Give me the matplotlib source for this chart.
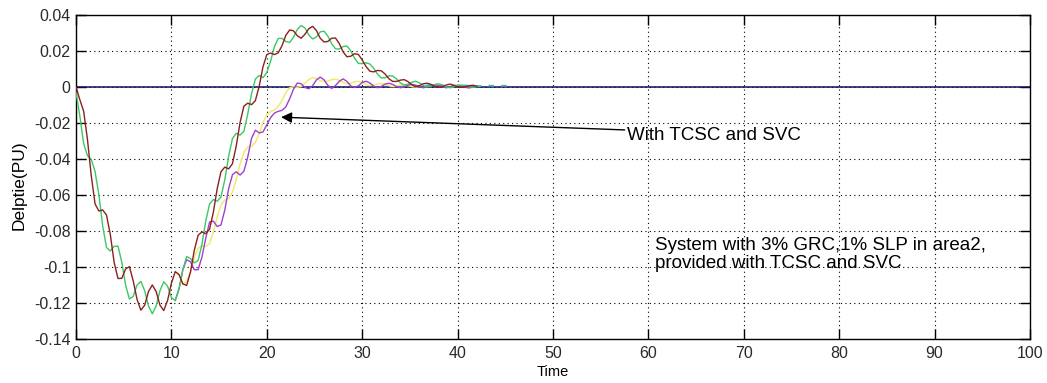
import matplotlib
matplotlib.use("Agg")
import matplotlib.pyplot as plt

plt.rcParams['font.family'] = ['Liberation Sans', 'DejaVu Sans']

# === data (time step 0.4) ===
time = [0.0, 0.4, 0.8, 1.2, 1.6, 2.0, 2.4, 2.8, 3.2, 3.6,
        4.0, 4.4, 4.8, 5.2, 5.6, 6.0, 6.4, 6.8, 7.2, 7.6,
        8.0, 8.4, 8.8, 9.2, 9.6, 10.0, 10.4, 10.8, 11.2, 11.6,
        12.0, 12.4, 12.8, 13.2, 13.6, 14.0, 14.4, 14.8, 15.2, 15.6,
        16.0, 16.4, 16.8, 17.2, 17.6, 18.0, 18.4, 18.8, 19.2, 19.6,
        20.0, 20.4, 20.8, 21.2, 21.6, 22.0, 22.4, 22.8, 23.2, 23.6,
        24.0, 24.4, 24.8, 25.2, 25.6, 26.0, 26.4, 26.8, 27.2, 27.6,
        28.0, 28.4, 28.8, 29.2, 29.6, 30.0, 30.4, 30.8, 31.2, 31.6,
        32.0, 32.4, 32.8, 33.2, 33.6, 34.0, 34.4, 34.8, 35.2, 35.6,
        36.0, 36.4, 36.8, 37.2, 37.6, 38.0, 38.4, 38.8, 39.2, 39.6,
        40.0, 40.4, 40.8, 41.2, 41.6, 42.0]

red = [0.0, -0.007, -0.0134, -0.0291, -0.0493, -0.065, -0.0689, -0.0683, -0.0712, -0.0821,
       -0.0975, -0.1064, -0.1063, -0.1011, -0.0998, -0.1078, -0.118, -0.124, -0.1212, -0.1136,
       -0.110, -0.1136, -0.1212, -0.1242, -0.1186, -0.109, -0.1026, -0.1042, -0.1094, -0.1102,
       -0.1028, -0.0907, -0.0824, -0.0805, -0.0815, -0.079, -0.0695, -0.0565, -0.047, -0.0445,
       -0.0455, -0.0426, -0.0327, -0.0197, -0.0106, -0.009, -0.0098, -0.0076, 0.0004, 0.0112,
       0.018, 0.0189, 0.018, 0.019, 0.023, 0.0288, 0.0317, 0.0312, 0.0285, 0.0271,
       0.0293, 0.0324, 0.0337, 0.0314, 0.0271, 0.025, 0.0253, 0.0271, 0.0272, 0.0241,
       0.0195, 0.0168, 0.0171, 0.0185, 0.0181, 0.015, 0.0114, 0.0088, 0.0084, 0.0092,
       0.009, 0.0072, 0.0046, 0.0031, 0.0031, 0.0038, 0.0041, 0.003, 0.0012, 0.0002,
       0.0008, 0.0018, 0.0021, 0.0015, 0.0004, -0.0002, 0.0002, 0.0011, 0.0016, 0.001,
       0.0, -0.0001, 0.0001, 0.0007, 0.001, 0.0005]

green = [-0.003, -0.016, -0.0314, -0.0381, -0.0403, -0.047, -0.0599, -0.0773, -0.0892, -0.0911,
         -0.0885, -0.0884, -0.0973, -0.1101, -0.1178, -0.1163, -0.110, -0.108, -0.1132, -0.1216,
         -0.126, -0.1216, -0.1132, -0.1082, -0.1106, -0.117, -0.1186, -0.1122, -0.1014, -0.0942,
         -0.0953, -0.0977, -0.0964, -0.0875, -0.0745, -0.065, -0.0625, -0.0635, -0.061, -0.0515,
         -0.0385, -0.0286, -0.0257, -0.0267, -0.0246, -0.015, -0.0038, 0.0044, 0.0064, 0.0052,
         0.008, 0.0144, 0.0224, 0.027, 0.027, 0.0253, 0.0247, 0.0277, 0.032, 0.0341,
         0.0328, 0.0289, 0.0267, 0.0278, 0.0306, 0.031, 0.0283, 0.0241, 0.0212, 0.0211,
         0.0225, 0.0228, 0.0201, 0.016, 0.0131, 0.013, 0.0134, 0.0128, 0.0104, 0.0072,
         0.005, 0.0052, 0.0062, 0.0061, 0.0045, 0.0023, 0.0011, 0.0015, 0.0026, 0.0032,
         0.0023, 0.0008, 0.0001, 0.0005, 0.0014, 0.0018, 0.0012, 0.0001, -0.0004, 0.0,
         0.001, 0.0011, 0.0007, 0.0001, -0.0002, 0.0002]

# purple and yellow run under green/red until ~t=10.4, so they start there
split_start = 26
purple = [-0.1186, -0.1122, -0.1014, -0.096, -0.097, -0.1015, -0.1015, -0.0945, -0.084, -0.075,
          -0.0745, -0.0775, -0.0766, -0.0683, -0.0565, -0.0487, -0.0471, -0.0489, -0.0468, -0.039,
          -0.0286, -0.024, -0.0255, -0.025, -0.021, -0.017, -0.0145, -0.0135, -0.013, -0.011,
          -0.0065, -0.0012, 0.0022, 0.0018, -0.0003, -0.001, 0.0007, 0.0039, 0.0055, 0.004,
          0.0009, -0.0008, 0.0008, 0.0032, 0.0045, 0.0031, 0.0006, -0.0002, 0.0006, 0.0025,
          0.0032, 0.0022, 0.0005, -0.0004, 0.0003, 0.0016, 0.0021, 0.0014, 0.0002, -0.0004,
          0.0001, 0.001, 0.0015, 0.001, 0.0001, -0.0004, 0.0, 0.0008, 0.0012, 0.0008,
          0.0001, -0.0004, -0.0001, 0.0006, 0.0009, 0.0005, -0.0002, -0.0005, -0.0001, 0.0004]

yellow = [-0.1026, -0.1042, -0.1094, -0.108, -0.1025, -0.0948, -0.0896, -0.0882, -0.0886, -0.087,
          -0.0806, -0.0722, -0.0656, -0.0628, -0.062, -0.0583, -0.0514, -0.0428, -0.0363, -0.0335,
          -0.0329, -0.0308, -0.0259, -0.0197, -0.0155, -0.0136, -0.0128, -0.0108, -0.0074, -0.003,
          -0.0004, 0.0002, -0.0002, 0.0003, 0.0022, 0.0041, 0.0053, 0.0047, 0.0035, 0.003,
          0.0033, 0.0041, 0.0044, 0.0037, 0.0025, 0.0018, 0.0021, 0.0029, 0.0032, 0.0025,
          0.0013, 0.0008, 0.0011, 0.0016, 0.0019, 0.0014, 0.0007, 0.0002, 0.0005, 0.001,
          0.0012, 0.0008, 0.0002, 0.0, 0.0003]

cyan_t = [34, 35, 36, 37, 38, 39, 40, 41, 42, 43, 44, 45, 45.6]
cyan = [0.0006, 0.0009, 0.0004, 0.001, 0.0007, 0.0003, 0.0009, 0.0008, 0.0004, 0.0008, 0.0006, 0.0007, 0.0006]

ref_t = [0, 100]
ref = [0, 0]

xticks = [0, 10, 20, 30, 40, 50, 60, 70, 80, 90, 100]
yticks = [-0.14, -0.12, -0.1, -0.08, -0.06, -0.04, -0.02, 0, 0.02, 0.04]
ylabels = ['-0.14', '-0.12', '-0.1', '-0.08', '-0.06', '-0.04', '-0.02', '0', '0.02', '0.04']

# === plot ===
fig = plt.figure(figsize=(10.47, 3.83), dpi=100)
ax = fig.add_axes([76 / 1047, 1 - 339 / 383, 954 / 1047, 324 / 383])

ax.plot(ref_t, ref, color='#10105a', lw=1.1, zorder=2)
ax.plot(cyan_t, cyan, color='#3fb3b0', lw=1.3, ls=(0, (3, 4)), zorder=3)
ax.plot(time[split_start:split_start + len(yellow)], yellow, color='#f0ea70', lw=1.1, zorder=3)
ax.plot(time[split_start:split_start + len(purple)], purple, color='#a040d0', lw=1.0, zorder=4)
ax.plot(time, green, color='#3cc864', lw=1.0, zorder=5)
ax.plot(time, red, color='#8c2020', lw=1.0, zorder=6)

ax.set_xlim(0, 100)
ax.set_ylim(-0.14, 0.04)
ax.set_xticks(xticks)
ax.set_xticklabels([str(v) for v in xticks])
ax.set_yticks(yticks)
ax.set_yticklabels(ylabels)
ax.tick_params(direction='in', length=7, width=1, top=True, right=True,
               labelsize=11.5, labelcolor='#2a2a2a', pad=4)
ax.tick_params(axis='x', pad=5)
ax.grid(True, color='black', ls=(0, (1, 3)), lw=0.8)
for s in ax.spines.values():
    s.set_linewidth(1.0)

ax.set_xlabel('Time', fontsize=10.5, va='center')
ax.xaxis.set_label_coords(0.5, -0.102)
ax.set_ylabel('Delptie(PU)', fontsize=12.5, va='center')
ax.yaxis.set_label_coords(-0.06, 0.475)

ax.annotate('', xy=(21.2, -0.0167), xytext=(57.8, -0.0239),
            arrowprops=dict(arrowstyle='-|>', color='black', lw=1.0, mutation_scale=16))
ax.text(57.8, -0.0272, 'With TCSC and SVC', fontsize=13.5, ha='left', va='center')
ax.text(60.7, -0.0931, 'System with 3% GRC,1% SLP in area2,\nprovided with TCSC and SVC',
        fontsize=13.5, ha='left', va='center', linespacing=1.1)

fig.savefig('out.png', dpi=100)
